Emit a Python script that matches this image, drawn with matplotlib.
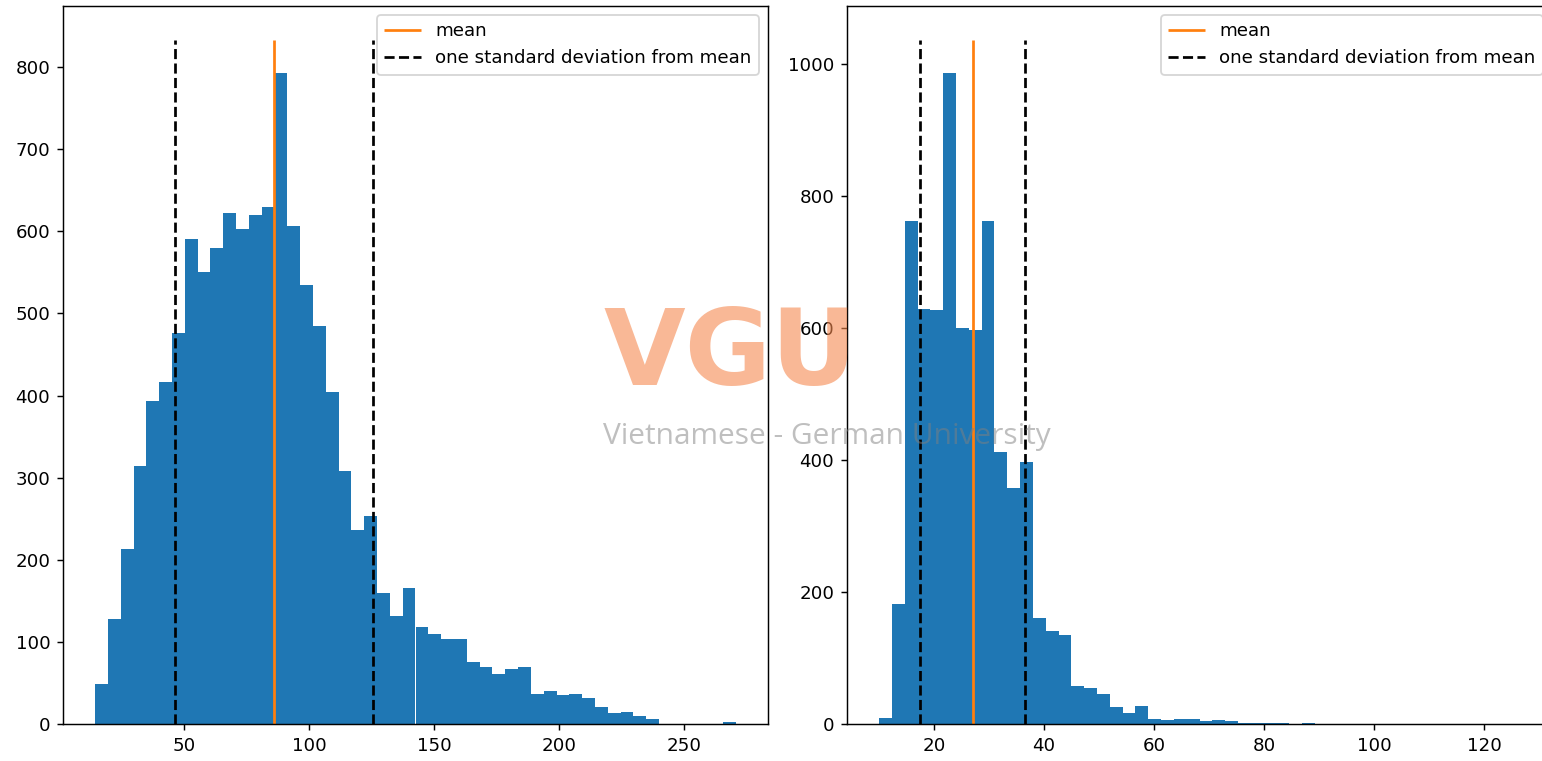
import numpy as np
import matplotlib
matplotlib.use("Agg")
import matplotlib.pyplot as plt

# left histogram: 50 bins between lo and hi
left_range = (14.2, 270.7)
left_counts = [49, 128, 213, 314, 393, 417, 476, 590, 550, 579,
               622, 603, 620, 630, 793, 606, 534, 485, 404, 308,
               236, 253, 160, 132, 166, 118, 109, 104, 103, 75,
               69, 61, 67, 69, 37, 40, 35, 37, 32, 21,
               13, 15, 10, 6, 0, 0, 0, 0, 0, 2]
left_mean = 85.8
left_std = 39.5

# right histogram
right_range = (10.0, 126.5)
right_counts = [9, 181, 761, 629, 627, 986, 599, 597, 762, 412,
                358, 396, 161, 141, 135, 58, 55, 45, 25, 16,
                28, 8, 6, 8, 8, 4, 6, 4, 2, 2,
                2, 2, 0, 2, 0, 0, 0, 0, 0, 0,
                0, 0, 0, 0, 0, 0, 0, 0, 0, 0]
right_mean = 27.05
right_std = 9.55

DPI = 131
fig = plt.figure(figsize=(1542 / DPI, 761 / DPI), dpi=DPI)

ax1 = fig.add_axes([63 / 1542, 37 / 761, 705 / 1542, 718 / 761])
ax2 = fig.add_axes([847 / 1542, 37 / 761, 705 / 1542, 718 / 761])


def draw_hist(ax, rng, counts, mean, std):
    edges = np.linspace(rng[0], rng[1], len(counts) + 1)
    centers = (edges[:-1] + edges[1:]) / 2
    ax.hist(centers, bins=edges, weights=counts)
    top = max(counts) * 1.05
    ax.vlines(mean, 0, top, colors="C1", label="mean")
    ax.vlines([mean - std, mean + std], 0, top, colors="k",
              linestyles="--", label="one standard deviation from mean")
    ax.legend(loc="upper right")


draw_hist(ax1, left_range, left_counts, left_mean, left_std)
draw_hist(ax2, right_range, right_counts, right_mean, right_std)

# watermark
fig.text(0.4735, 0.532, "VGU", fontsize=58, fontweight="bold",
         color=(245 / 255, 137 / 255, 80 / 255), alpha=0.6,
         ha="center", va="center", family="DejaVu Sans", zorder=10)
fig.text(0.5365, 0.426, "Vietnamese - German University", fontsize=16.4,
         color="#808080", alpha=0.5, ha="center", va="center",
         family="Open Sans", zorder=10)

fig.savefig("out.png", dpi=DPI)
